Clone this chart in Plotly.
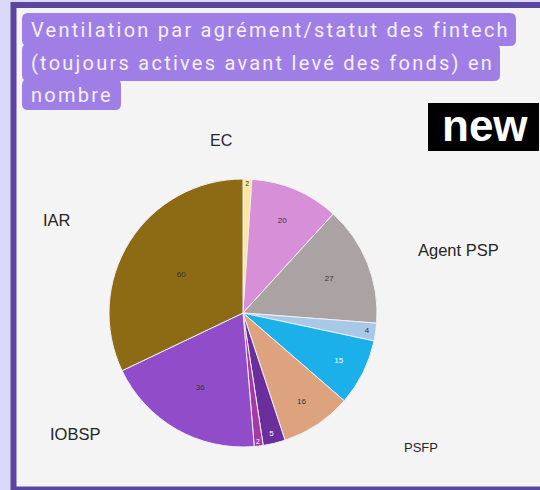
import plotly.graph_objects as go

W, H = 540, 490

# ---- data ----
slice_names = ["EC", "Agent PSP (a)", "Agent PSP", "Agent PSP (b)", "PSFP (a)", "PSFP",
               "Autre (a)", "Autre (b)", "IOBSP", "IAR"]
slice_values = [2, 20, 27, 4, 15, 16, 5, 2, 36, 60]
slice_colors = ["#fbe6a2", "#d78fd8", "#aba3a3", "#a8c8e8", "#1cb0ea", "#dca37e",
                "#6a2f9d", "#a33aa8", "#914dc9", "#8d6b14"]
slice_text_colors = ["#333333", "#333333", "#333333", "#333333", "#ffffff", "#333333",
                     "#ffffff", "#ffffff", "#333333", "#333333"]

outer_labels = ["EC", "IAR", "Agent PSP", "PSFP", "IOBSP"]
title_lines = ["Ventilation par agrément/statut des fintech",
               "(toujours actives avant levé des fonds) en",
               "nombre"]
badge_text = "new"


def px(x):
    return x / W


def py(y):
    return 1 - y / H


def rounded_rect(x0, y0, x1, y1, r):
    def P(x, y):
        return f"{px(x):.5f},{py(y):.5f}"
    return (f"M {P(x0 + r, y0)} L {P(x1 - r, y0)} Q {P(x1, y0)} {P(x1, y0 + r)} "
            f"L {P(x1, y1 - r)} Q {P(x1, y1)} {P(x1 - r, y1)} "
            f"L {P(x0 + r, y1)} Q {P(x0, y1)} {P(x0, y1 - r)} "
            f"L {P(x0, y0 + r)} Q {P(x0, y0)} {P(x0 + r, y0)} Z")


fig = go.Figure()

fig.add_trace(go.Pie(
    labels=slice_names,
    values=slice_values,
    sort=False,
    direction="clockwise",
    rotation=0,
    marker=dict(colors=slice_colors, line=dict(color="#f3eef3", width=1)),
    textinfo="value",
    textposition="inside",
    insidetextorientation="horizontal",
    textfont=dict(family="Liberation Sans", size=8, color=slice_text_colors),
    domain=dict(x=[px(109), px(377)], y=[py(447), py(179)]),
    showlegend=False,
    hoverinfo="label+value",
))

shapes = []
# outer frame
shapes.append(dict(type="rect", xref="paper", yref="paper",
                   x0=px(13.5), x1=px(560), y0=py(489.5), y1=py(5),
                   line=dict(color="#5a459f", width=6), fillcolor="#f4f4f4", layer="below"))
# title highlight boxes
box_color = "#9f7fe6"
for (x0, y0, x1, y1) in [(22, 13, 516, 46), (22, 44, 500, 81), (22, 79, 121, 110)]:
    shapes.append(dict(type="path", xref="paper", yref="paper",
                       path=rounded_rect(x0, y0, x1, y1, 6),
                       fillcolor=box_color, line=dict(width=0), layer="below"))
# "new" badge
shapes.append(dict(type="rect", xref="paper", yref="paper",
                   x0=px(428), x1=px(539), y0=py(151), y1=py(103),
                   fillcolor="#000000", line=dict(width=0), layer="below"))

annotations = []
title_y = [30, 63, 95]
for t, yy in zip(title_lines, title_y):
    annotations.append(dict(text=t, xref="paper", yref="paper", x=px(29), y=py(yy),
                            xanchor="left", yanchor="middle", showarrow=False,
                            font=dict(family="Roboto", size=20, color="#f4f0fc")))

label_pos = [(221, 140, 16), (56.5, 220, 16.5), (458, 250, 16.5), (421, 447, 13), (75, 433.5, 16.5)]
for lab, (x, y, s) in zip(outer_labels, label_pos):
    annotations.append(dict(text=lab, xref="paper", yref="paper", x=px(x), y=py(y),
                            xanchor="center", yanchor="middle", showarrow=False,
                            font=dict(family="Liberation Sans", size=s, color="#262626")))

annotations.append(dict(text=f"<b>{badge_text}</b>", xref="paper", yref="paper",
                        x=px(485), y=py(126), xanchor="center", yanchor="middle",
                        showarrow=False,
                        font=dict(family="Liberation Sans", size=44, color="#ffffff")))

fig.update_layout(
    width=W, height=H,
    margin=dict(l=0, r=0, t=0, b=0),
    paper_bgcolor="#dcd8f8",
    plot_bgcolor="#dcd8f8",
    shapes=shapes,
    annotations=annotations,
)

# page margin removal + uniform letter spacing of the title lines
post = """
document.body.style.margin = '0';
var ls = null;
for (var i = 0; i < 3; i++) {
  var n = document.querySelector('.annotation[data-index="' + i + '"] text');
  if (!n) continue;
  var bb = n.getBBox();
  if (ls === null) {
    ls = (476 - bb.width) / Math.max(1, n.textContent.length - 1);
  }
  n.style.letterSpacing = ls.toFixed(2) + 'px';
  n.setAttribute('text-anchor', 'start');
  n.setAttribute('x', bb.x);
  n.querySelectorAll('tspan').forEach(function(t){ if (t.hasAttribute('x')) t.setAttribute('x', bb.x); });
}
"""

fig.write_html("out.html", post_script=post, config={"displayModeBar": False})
